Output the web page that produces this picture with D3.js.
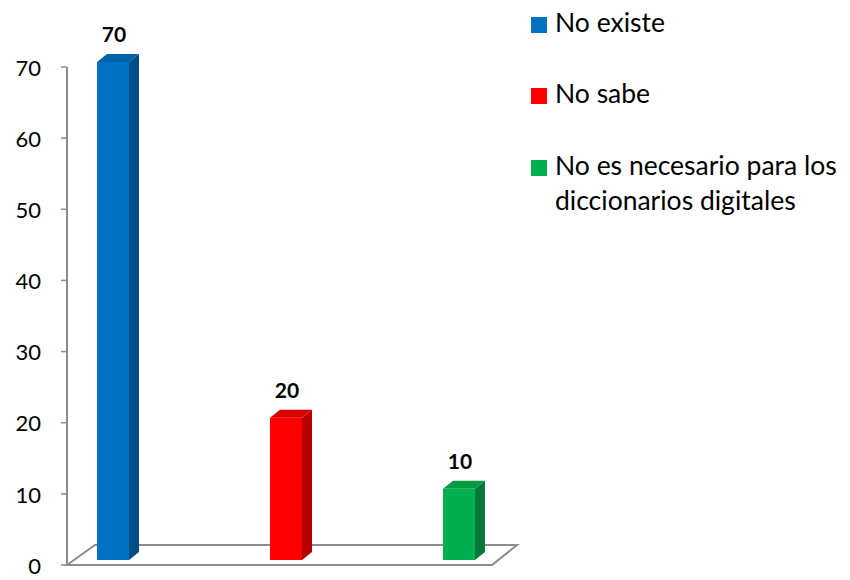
<!DOCTYPE html>
<html>
<head>
<meta charset="utf-8">
<script src="https://cdn.jsdelivr.net/npm/d3@7"></script>
<style>
  html, body { margin: 0; padding: 0; background: #fff; }
  svg { display: block; }
  text { font-family: Lato, "Open Sans", sans-serif; fill: #000; }
</style>
</head>
<body>
<svg id="chart" width="850" height="580"></svg>
<script>
// Survey answers
const categories = ["No existe", "No sabe", "No es necesario para los diccionarios digitales"];
const values = [70, 20, 10];
const yTicks = [0, 10, 20, 30, 40, 50, 60, 70];

// Face colours for each bar: front, side, top
const frontColors = ["#0070C0", "#FF0000", "#00B050"];
const sideColors  = ["#004C84", "#B80000", "#00783A"];
const topColors   = ["#0062A8", "#D80000", "#009A45"];
const legendLines = [["No existe"], ["No sabe"], ["No es necesario para los", "diccionarios digitales"]];

const svg = d3.select("#chart");

const axisX = 67;
const y = d3.scaleLinear().domain([0, 70]).range([565, 67]);
const x = d3.scalePoint().domain(categories).range([67, 505]).padding(0.266);

const barW = 32;          // front face width
const depthX = 10, depthY = -8;   // bar depth offset
const barLift = -5;       // bars sit half-way back on the floor
const floorDX = 28, floorDY = -20;

// Floor
const fx0 = axisX, fx1 = 492, fy = y(0);
svg.append("path")
  .attr("d", `M${fx0},${fy} L${fx0 + floorDX},${fy + floorDY} L${fx1 + floorDX - 3},${fy + floorDY} L${fx1},${fy} Z`)
  .attr("fill", "#fff")
  .attr("stroke", "#8c8c8c")
  .attr("stroke-width", 2);

// Vertical axis
svg.append("line")
  .attr("x1", axisX).attr("x2", axisX)
  .attr("y1", y(70)).attr("y2", y(0))
  .attr("stroke", "#8c8c8c").attr("stroke-width", 2);

const ticks = svg.append("g");
ticks.selectAll("line").data(yTicks).join("line")
  .attr("x1", axisX - 6).attr("x2", axisX)
  .attr("y1", d => y(d)).attr("y2", d => y(d))
  .attr("stroke", "#8c8c8c").attr("stroke-width", 1.5);
ticks.selectAll("text").data(yTicks).join("text")
  .attr("x", 41).attr("y", d => y(d) + 1)
  .attr("dy", "0.35em")
  .attr("text-anchor", "end")
  .attr("font-size", 22)
  .text(d => d);

// 3D bars
const bars = svg.append("g").selectAll("g").data(values).join("g");
bars.each(function (v, i) {
  const g = d3.select(this);
  const xl = x(categories[i]) - barW / 2, xr = xl + barW;
  const yb = y(0) + barLift, yt = y(v) + barLift;
  // side face
  g.append("path")
    .attr("d", `M${xr},${yt} L${xr + depthX},${yt + depthY} L${xr + depthX},${yb + depthY} L${xr},${yb} Z`)
    .attr("fill", sideColors[i]);
  // top face
  g.append("path")
    .attr("d", `M${xl},${yt} L${xl + depthX},${yt + depthY} L${xr + depthX},${yt + depthY} L${xr},${yt} Z`)
    .attr("fill", topColors[i]);
  // front face
  g.append("rect")
    .attr("x", xl).attr("y", yt)
    .attr("width", barW).attr("height", yb - yt)
    .attr("fill", frontColors[i]);
  // value label
  g.append("text")
    .attr("x", xl + barW / 2 + 1).attr("y", yt + depthY - 12)
    .attr("text-anchor", "middle")
    .attr("font-size", 21).attr("font-weight", "bold")
    .text(v);
});

// Legend
const legendY = [32, 103, 175];
const legend = svg.append("g").selectAll("g").data(categories).join("g");
legend.append("rect")
  .attr("x", 531).attr("y", (d, i) => legendY[i] - 15)
  .attr("width", 16).attr("height", 16)
  .attr("fill", (d, i) => frontColors[i]);
legend.each(function (d, i) {
  const t = d3.select(this).append("text")
    .attr("x", 555).attr("y", legendY[i])
    .attr("font-size", 26.5);
  legendLines[i].forEach((ln, k) => {
    t.append("tspan").attr("x", 555).attr("dy", k === 0 ? 0 : 35).text(ln);
  });
});
</script>
</body>
</html>
